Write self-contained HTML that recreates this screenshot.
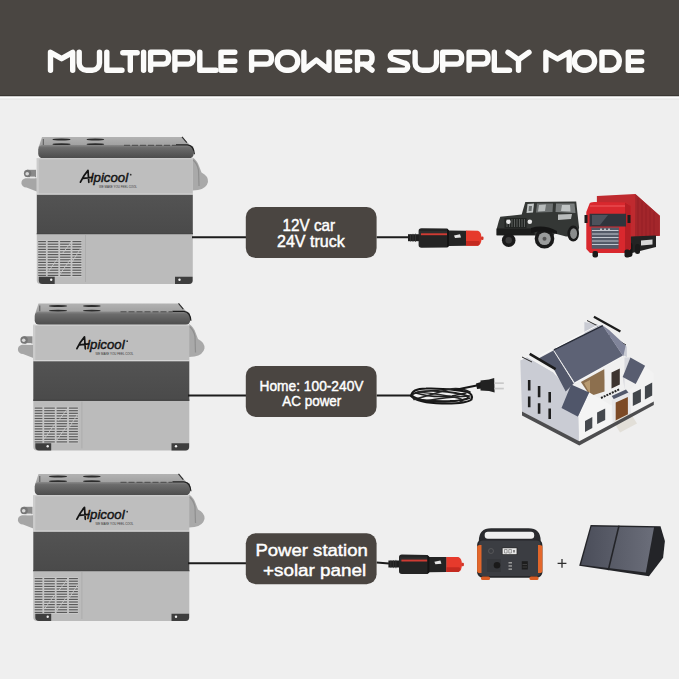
<!DOCTYPE html>
<html><head><meta charset="utf-8"><style>
html,body{margin:0;padding:0;background:#efefef;}
svg{display:block;}
</style></head><body>
<svg width="679" height="679" viewBox="0 0 679 679">
<rect width="679" height="679" fill="#efefef"/>
<rect width="679" height="96.3" fill="#4a4642"/>
<rect y="95.2" width="679" height="1.2" fill="#36332f"/><rect y="96.4" width="679" height="2.2" fill="#fbfbfb"/><rect y="98.6" width="679" height="1" fill="#e4e4e4"/>
<g fill="none" stroke="#fbfbfa" stroke-width="5.4" stroke-linecap="round" stroke-linejoin="round"><path d="M50.5,70.2 V52.3 L61.6,58.7 L72.7,52.3 V70.2"/><path d="M79.2,52.3 V63 A7.2,7.2 0 0 0 86.4,70.2 H92.3 A7.2,7.2 0 0 0 99.5,63 V52.3"/><path d="M106.8,52.3 V70.2 H122"/><path d="M122.8,52.8 H137.2 M130.3,52.8 V70.2"/><path d="M143.6,52.3 V70.2"/><path d="M150.6,70.2 V52.3 H164.0 A4.5,4.5 0 0 1 168.5,56.8 V59.599999999999994 A4.5,4.5 0 0 1 164.0,64.1 H150.6"/><path d="M174.9,70.2 V52.3 H188.4 A4.5,4.5 0 0 1 192.9,56.8 V59.599999999999994 A4.5,4.5 0 0 1 188.4,64.1 H174.9"/><path d="M199.8,52.3 V70.2 H216"/><path d="M234.8,52.3 H221 V70.2 H234.8 M221,61.3 H234.8"/><path d="M251.6,70.2 V52.3 H266.9 A4.5,4.5 0 0 1 271.4,56.8 V59.599999999999994 A4.5,4.5 0 0 1 266.9,64.1 H251.6"/><path d="M286.2,52.3 H288.8 A8.9,8.9 0 0 1 297.7,61.3 A8.9,8.9 0 0 1 288.8,70.2 H286.2 A8.9,8.9 0 0 1 277.3,61.3 A8.9,8.9 0 0 1 286.2,52.3 Z"/><path d="M303.9,52.3 V70.2 L316.4,60 L329,70.2 V52.3"/><path d="M349.7,52.3 H337.4 V70.2 H349.7 M337.4,61.3 H349.7"/><path d="M357.5,70.2 V52.3 H367.5 A4.5,4.5 0 0 1 372,56.8 V59.599999999999994 A4.5,4.5 0 0 1 367.5,64.1 H357.5 M364,64.1 L372,70.2"/><path d="M408.3,52.3 H394 A3.6,3.6 0 0 0 394,59.5 L404.1,63 A3.6,3.6 0 0 1 404.1,70.2 H389.8"/><path d="M415.1,52.3 V63 A7.2,7.2 0 0 0 422.3,70.2 H429.3 A7.2,7.2 0 0 0 436.5,63 V52.3"/><path d="M442.7,70.2 V52.3 H457.1 A4.5,4.5 0 0 1 461.6,56.8 V59.599999999999994 A4.5,4.5 0 0 1 457.1,64.1 H442.7"/><path d="M469.1,70.2 V52.3 H483.5 A4.5,4.5 0 0 1 488,56.8 V59.599999999999994 A4.5,4.5 0 0 1 483.5,64.1 H469.1"/><path d="M494.3,52.3 V70.2 H509.5"/><path d="M508,52.3 L518.5,59.8 L529,52.3 M518.5,59.8 V70.2"/><path d="M545.9,70.2 V52.3 L557.6,59 L569.2,52.3 V70.2"/><path d="M583,52.3 H586 A8.9,8.9 0 0 1 594.6,61.3 A8.9,8.9 0 0 1 586,70.2 H583 A8.9,8.9 0 0 1 574.4,61.3 A8.9,8.9 0 0 1 583,52.3 Z"/><path d="M602,52.3 V70.2 H611 A8.9,8.9 0 0 0 619.3,61.3 A8.9,8.9 0 0 0 611,52.3 Z"/><path d="M641.7,52.3 H628.3 V70.2 H641.7 M628.3,61.3 H641.7"/></g>
<defs><g id="fr"><defs><linearGradient id="lidg" x1="0" y1="0" x2="0" y2="1"><stop offset="0" stop-color="#b2b2b2"/><stop offset="1" stop-color="#9c9c9c"/></linearGradient><linearGradient id="bandg" x1="0" y1="0" x2="0" y2="1"><stop offset="0" stop-color="#8a8a8a"/><stop offset="0.2" stop-color="#6c6c6c"/><stop offset="1" stop-color="#4c4c4c"/></linearGradient><linearGradient id="dbg" x1="0" y1="0" x2="0" y2="1"><stop offset="0" stop-color="#535353"/><stop offset="1" stop-color="#4a4a4a"/></linearGradient></defs><path d="M36.8,178.2 L25.5,178.2 Q21.2,179.2 21.4,183.4 Q22,186.8 26.5,187.6 L36.8,191.4 Z" fill="#a6a6a6"/><rect x="27" y="169.8" width="9" height="7.4" fill="#8a8a8a"/><circle cx="27.6" cy="173.4" r="3.7" fill="#767676"/><circle cx="27.2" cy="173.8" r="1.8" fill="#d8d8d8"/><rect x="30" y="176.6" width="5" height="1.6" fill="#e8e8e8"/><path d="M192.5,157.5 Q197,160 199,166 L201.5,172.5 Q208.5,176 208,182 Q206.5,188.5 198,190 L192.5,190.5 Z" fill="#a9a9a9"/><path d="M193,160 Q197,163 198.5,170 L199,186" fill="none" stroke="#8f8f8f" stroke-width="1.2"/><path d="M42,137.1 L182,137.1 L190,145 L38.5,147.7 Z" fill="url(#lidg)"/><path d="M182,136.9 L186.8,142.6" stroke="#2a2a2a" stroke-width="1.1"/><path d="M43.3,139 V145" stroke="#444" stroke-width="0.8"/><ellipse cx="61.5" cy="139.5" rx="9.099999999999998" ry="1.1" fill="#2c2c2c"/><ellipse cx="61.5" cy="144.3" rx="9.099999999999998" ry="1.1" fill="#2c2c2c"/><ellipse cx="95.35" cy="139.5" rx="8.850000000000001" ry="1.1" fill="#2c2c2c"/><ellipse cx="95.35" cy="144.3" rx="8.850000000000001" ry="1.1" fill="#2c2c2c"/><rect x="38.2" y="145" width="155.5" height="13.3" rx="4.5" fill="url(#bandg)"/><path d="M176,144.8 H187.5 Q193.8,145.5 194.4,154.2" stroke="#1e1e1e" stroke-width="1.2" fill="none"/><path d="M124,145.3 H176" stroke="#444" stroke-width="0.9" stroke-dasharray="6 2"/><rect x="36.8" y="158.3" width="156" height="36.5" fill="#bebebe"/><rect x="36.8" y="158.3" width="2" height="36.5" fill="#cccccc"/><rect x="36.8" y="158.3" width="156" height="1" fill="#d0d0d0"/><rect x="36.8" y="193.6" width="156" height="1.2" fill="#d9d9d9"/><rect x="36.8" y="194.8" width="156" height="39.6" fill="url(#dbg)"/><rect x="36.8" y="233" width="156" height="1.4" fill="#454545"/><path d="M36.8,234.4 H192.8 V280.5 Q192.8,283.9 189.5,283.9 H40.3 Q36.8,283.9 36.8,280.5 Z" fill="#bbbbbb"/><rect x="37.7" y="240.3" width="44.1" height="36.5" fill="#cbcbcb"/><rect x="38.2" y="241.0" width="43.2" height="1.2" fill="#5a5a5a"/><rect x="38.2" y="243.6" width="43.2" height="1.2" fill="#5a5a5a"/><rect x="38.2" y="246.2" width="43.2" height="1.2" fill="#5a5a5a"/><rect x="38.2" y="248.8" width="43.2" height="1.2" fill="#5a5a5a"/><rect x="38.2" y="251.4" width="43.2" height="1.2" fill="#5a5a5a"/><rect x="38.2" y="254.0" width="43.2" height="1.2" fill="#5a5a5a"/><rect x="38.2" y="256.6" width="43.2" height="1.2" fill="#5a5a5a"/><rect x="38.2" y="259.2" width="43.2" height="1.2" fill="#5a5a5a"/><rect x="38.2" y="261.8" width="43.2" height="1.2" fill="#5a5a5a"/><rect x="38.2" y="264.4" width="43.2" height="1.2" fill="#5a5a5a"/><rect x="38.2" y="267.0" width="43.2" height="1.2" fill="#5a5a5a"/><rect x="38.2" y="269.6" width="43.2" height="1.2" fill="#5a5a5a"/><rect x="38.2" y="272.2" width="43.2" height="1.2" fill="#5a5a5a"/><rect x="38.2" y="274.8" width="43.2" height="1.2" fill="#5a5a5a"/><rect x="45.9" y="240.3" width="1.8" height="36.5" fill="#c4c4c4"/><rect x="58.3" y="240.3" width="1.8" height="36.5" fill="#c4c4c4"/><rect x="70.6" y="240.3" width="1.8" height="36.5" fill="#c4c4c4"/><path d="M48,272 L58,258 M60,274 L70,260 M62,254 L72,241 M72,262 L81,248" stroke="#c8c8c8" stroke-width="0.9"/><rect x="85" y="235" width="0.8" height="47" fill="#aaaaaa"/><path d="M38.8,276.8 H54.7 V283.9 H42.5 Q38.8,283.9 38.8,280.5 Z" fill="#3e3e3e"/><path d="M175,276.8 H192.6 V280.5 Q192.6,283.9 189,283.9 H175 Z" fill="#3e3e3e"/><circle cx="51.2" cy="279.8" r="1.2" fill="#eee"/><circle cx="179.5" cy="279.8" r="1.2" fill="#eee"/><path d="M80.4,182.2 Q83.5,175.5 88,170.4 L88.8,182.3 M83.2,178.4 L92.3,177.4" fill="none" stroke="#141414" stroke-width="1.7" stroke-linecap="round" stroke-linejoin="round"/><text x="90.6" y="182.3" font-family="Liberation Sans" font-style="italic" font-size="13" fill="#141414" stroke="#141414" stroke-width="0.45" textLength="37.5" lengthAdjust="spacingAndGlyphs">lpicool</text><text x="99" y="188.3" font-family="Liberation Sans" font-size="3" fill="#333" textLength="38" lengthAdjust="spacingAndGlyphs">WE MAKE YOU FEEL COOL</text><circle cx="130.7" cy="174.7" r="0.9" fill="#333"/></g></defs>
<use href="#fr"/>
<use href="#fr" transform="translate(-3.5,166.5)"/>
<use href="#fr" transform="translate(-3.5,337)"/>
<g stroke="#1c1c1c" stroke-width="2" fill="none">
<path d="M192,237.3 H246"/><path d="M376.6,237.3 H409"/>
<path d="M188,395.5 H246"/><path d="M376.6,395.5 H411"/>
<path d="M188,563.3 H246"/><path d="M376.6,562.5 L389,563.5"/>
</g>
<rect x="245.8" y="207.1" width="130.8" height="51" rx="10" fill="#4a4541"/><text x="308.8" y="231.1" text-anchor="middle" font-family="Liberation Sans" font-size="16.2" fill="#fff" stroke="#fff" stroke-width="0.45" textLength="52.6" lengthAdjust="spacingAndGlyphs">12V car</text><text x="310.9" y="246.7" text-anchor="middle" font-family="Liberation Sans" font-size="16.2" fill="#fff" stroke="#fff" stroke-width="0.45" textLength="67.7" lengthAdjust="spacingAndGlyphs">24V truck</text>
<rect x="245.8" y="365.9" width="130.8" height="51" rx="10" fill="#4a4541"/><text x="311.5" y="390.6" text-anchor="middle" font-family="Liberation Sans" font-size="14.6" fill="#fff" stroke="#fff" stroke-width="0.45" textLength="104" lengthAdjust="spacingAndGlyphs">Home: 100-240V</text><text x="311.8" y="405.5" text-anchor="middle" font-family="Liberation Sans" font-size="14.6" fill="#fff" stroke="#fff" stroke-width="0.45" textLength="59" lengthAdjust="spacingAndGlyphs">AC power</text>
<rect x="245.8" y="533.2" width="130.8" height="51" rx="10" fill="#4a4541"/><text x="311.6" y="556.1" text-anchor="middle" font-family="Liberation Sans" font-size="17.4" fill="#fff" stroke="#fff" stroke-width="0.45" textLength="112.4" lengthAdjust="spacingAndGlyphs">Power station</text><text x="314.6" y="575.7" text-anchor="middle" font-family="Liberation Sans" font-size="17.4" fill="#fff" stroke="#fff" stroke-width="0.45" textLength="103.2" lengthAdjust="spacingAndGlyphs">+solar panel</text>
<defs><g id="plug">
<path d="M408,234.2 H419 V241.2 H408 Z" fill="#1e1e1e"/>
<path d="M410.5,234 V241.5 M413,233.8 V241.8 M415.5,233.6 V242" stroke="#3a3a3a" stroke-width="0.7"/>
<path d="M418.6,231 Q418.6,228.3 421.5,228.3 L447,228.6 L449,230.6 L466.3,230.8 V245.8 L449,246 L447,247.6 L421.5,247.7 Q418.6,247.7 418.6,245 Z" fill="#242424"/>
<path d="M419,231 H447 V235 H419 Z" fill="#2e2e2e"/>
<rect x="421" y="233.3" width="26" height="1.9" fill="#cf3b33"/>
<path d="M447,228.6 L449,230.6 V246 L447,247.6 Z" fill="#141414"/>
<path d="M454,235.5 L460,234.3 L461,237.5 L455,238 Z" fill="#e6e6e6"/>
<path d="M466,230.6 L478,230.8 Q481.5,232 481.5,238.3 Q481.5,244.7 478,245.8 L466,245.8 Z" fill="#e63a2c"/>
<path d="M466,241 L479,241 Q481,243.5 478,245.8 L466,245.8 Z" fill="#c42a20"/>
<rect x="481" y="236.5" width="2.5" height="3.5" rx="1" fill="#d23427"/>
</g></defs>
<use href="#plug"/>
<use href="#plug" transform="translate(-19.6,326.3)"/>
<g>
<path d="M496.6,235.5 L496.6,229.2 L498.8,221.1 L500.3,216.7 L521.7,214.5 L525.3,202 L576.2,201.5 L577.6,214.5 L579.1,227.7 L577,236 L566,236.5 L554.8,233.5 L553,236 L534.5,235.5 Z" fill="#343735"/>
<path d="M527.5,204 L534,203.5 L533,212.5 L526.5,213 Z" fill="#c5c9c9"/>
<path d="M529,206 L532,206 L531.5,211 L528.5,211 Z" fill="#6a6e6e"/>
<path d="M537,203.5 L553,203.5 L552.5,212 L536,212.5 Z" fill="#6e7272"/>
<path d="M539,205 L546,204.5 L545,211 L538,211.5 Z" fill="#b8bcbc"/>
<path d="M556,203.5 L574.5,203.5 L575.5,213 L555.5,212 Z" fill="#7a7e7e"/>
<path d="M562,205 L570,205 L570.5,211.5 L561,211 Z" fill="#c0c4c4"/>
<path d="M558,214.5 L572,214 L571,219 L558,220 Z" fill="#b9bcbc"/>
<rect x="504.5" y="218" width="22" height="10" fill="#222523"/>
<path d="M507,219 V227 M509.5,219 V227 M512,219 V227 M514.5,219 V227 M517,219 V227 M519.5,219 V227 M522,219 V227 M524.5,219 V227" stroke="#6a6d6b" stroke-width="0.8"/>
<circle cx="508.4" cy="221.8" r="2.3" fill="#e8e8e8"/><circle cx="529.8" cy="221.8" r="2.3" fill="#e8e8e8"/>
<rect x="496.6" y="228.5" width="38" height="6.5" fill="#1c1d1c"/>
<circle cx="508.7" cy="240.3" r="6.8" fill="#1a1a1a"/><circle cx="508.7" cy="240.3" r="3.2" fill="#3a3a3a"/>
<circle cx="544.5" cy="238.8" r="9.8" fill="#1a1a1a"/><circle cx="544.5" cy="238.8" r="6.3" fill="#9a9c9c"/><circle cx="544.5" cy="238.8" r="2" fill="#555"/>
<ellipse cx="573.2" cy="233.6" rx="5.8" ry="8" fill="#1a1a1a"/><ellipse cx="573.6" cy="233.6" rx="3.5" ry="5.3" fill="#8a8c8c"/>
<path d="M531,228 Q544,224 557,231 L557,234 Q544,229 531,233 Z" fill="#151515"/>
</g>
<g>
<path d="M596.9,195.9 L635.3,193.9 L659.8,215.8 L659.8,235.7 L635,237 L596.9,236 Z" fill="#bf2a2f"/>
<path d="M635.3,193.9 L659.8,215.8 L659.8,235.7 L635,237 Z" fill="#a3262b"/>
<path d="M638,198 V236 M642,201.5 V236 M646,205 V236 M650,208.5 V236 M654,212 V236" stroke="#8f1d22" stroke-width="0.6"/>
<path d="M630,236.5 L656,235.5 L656,247 L632,253 L630,253 Z" fill="#232323"/>
<path d="M641,240.5 L652.5,239.5 L652.5,244.5 L641,245.5 Z" fill="#d8d8d8"/>
<rect x="625" y="242.5" width="7.5" height="14.5" rx="3" fill="#161616"/><rect x="635" y="244" width="5" height="10" rx="2.5" fill="#1a1a1a"/>
<path d="M589.6,203.5 Q590,201.9 594,201.9 L626,202.5 L630.7,206 L630.7,249 L627,253 L590,253 L586.3,249 L586.3,212 Z" fill="#d9282e"/>
<path d="M625,202.5 L630.7,206 L630.7,249 L625,251 Z" fill="#b51f25"/>
<path d="M589.6,213.8 L626,213.8 L626,226.4 L589.6,226.4 Z" fill="#30343c"/>
<path d="M592,215 L608,215 L600,225 L592,225 Z" fill="#4d525c"/>
<path d="M590,206 H625" stroke="#ef5a5e" stroke-width="1.2"/>
<path d="M591.3,227.5 L619,227.5 L618.5,248.8 L591.8,248.8 Z" fill="#545a68"/>
<path d="M592,230.5 H618.5 M592,234 H618.5 M592,237.5 H618.5 M592,241 H618.5 M592,244.5 H618.5" stroke="#c3c7d0" stroke-width="1"/><path d="M600,229.2 h2 M604,229.2 h2 M608,229.2 h2" stroke="#eee" stroke-width="1"/>
<rect x="584.5" y="215" width="3" height="8" fill="#1c1c1c"/><rect x="627.5" y="215" width="3" height="8" fill="#1c1c1c"/>
<rect x="592.5" y="251" width="5.5" height="6.5" rx="2" fill="#1a1a1a"/><rect x="624.5" y="249.5" width="5.5" height="8" rx="2" fill="#1a1a1a"/>
</g>
<g>
<path d="M584.4,322 L602.7,325.6 L609.2,330.3 L626.8,346.8 L626.8,357 L584.4,335 Z" fill="#c9cbd3"/>
<path d="M593.9,316.8 L620.4,331.5" stroke="#1c1c1c" stroke-width="2.2"/>
<path d="M587,320.5 L598,326 M609,335 L626,345" stroke="#2a2a2a" stroke-width="1"/>
<path d="M520.3,360.4 L527,356.5 L553.9,372.7 L562.1,383.3 L571,388 L578.9,418 L578.9,441.5 L522,411.4 Z" fill="#caccd4"/><path d="M521,359.5 L527,356.5 L553.9,372 L556,375" fill="none" stroke="#f4f4f4" stroke-width="1.2"/>
<path d="M538.6,358.6 L553.9,350.3 L573.9,383.3 L565.7,391.6 L553.9,369.2 Z" fill="#52576a"/>
<path d="M529.7,353.9 L555.6,369.2" stroke="#1a1a1a" stroke-width="2.6"/>
<path d="M522,357 L532,362" stroke="#2a2a2a" stroke-width="1"/>
<path d="M553.9,350.3 L602.7,325.6 L623.3,356.2 L575.1,383.3 Z" fill="#5d6275"/>
<path d="M602.7,325.6 L609.2,330.3 L625.7,345.6 L623.3,356.2 Z" fill="#80849a"/>
<path d="M553.9,349.8 L602.7,325.6" stroke="#262a36" stroke-width="1.3"/><path d="M540,356 L552,349.5 M556,347.5 L600,324" stroke="#fafafa" stroke-width="1"/>
<path d="M553.9,350.9 L573.9,382.7" stroke="#eeeeee" stroke-width="1"/>
<path d="M580.9,382 L604.5,369 L604.5,391.6 L590.3,396 Z" fill="#8c6f4e"/>
<path d="M584,383 L590,380 L590,394 Z" fill="#b89a70"/>
<path d="M604.5,368 L624.5,357.4 L624.5,388 L605.6,396 Z" fill="#f0f0f0"/>
<path d="M611.5,372.5 L619.8,368.5 L619.8,384.5 L611.5,388.5 Z" fill="#3d3430"/>
<path d="M575.1,383 L623.3,356.2" stroke="#f5f5f5" stroke-width="1.5"/>
<path d="M624.5,357.4 L630.4,357.4 L622.7,376.9 L624.5,389 Z" fill="#d7d8de"/>
<path d="M629.5,389.4 L635.7,383.9 L645.1,365.7 L653.8,373.2 L653.8,400.8 L631.1,413.7 Z" fill="#f2f2f2"/>
<path d="M630.4,357.4 L645.1,365.7 L635.7,383.9 L622.7,376.9 Z" fill="#585d70"/>
<path d="M632.8,393 L640.9,389 L640.9,402 L632.8,406 Z" fill="#42464b"/>
<path d="M644.9,386.6 L652.2,382.6 L652.2,395.5 L644.9,399.5 Z" fill="#42464b"/>
<path d="M578.5,417 L589.8,392.7 L611.7,405.6 L611.7,425.9 L579.3,441.3 Z" fill="#f4f4f4"/>
<path d="M571.2,384.6 L589.8,392.7 L578.5,417 L561.5,408 Z" fill="#50566a"/>
<path d="M589.8,392.7 L578.5,417" stroke="#fafafa" stroke-width="1.2"/>
<path d="M585,421 L592.3,417 L592.3,428 L585,432 Z" fill="#45494e"/>
<path d="M597.1,412.5 L605.2,408.5 L605.2,420 L597.1,424 Z" fill="#45494e"/>
<path d="M611.7,396 L626,389.4 L629.5,394 L615,401 Z" fill="#52586b"/>
<path d="M611.7,400 L629.5,392 L631,413.7 L613,423 Z" fill="#e6e6e8"/>
<path d="M615.7,402.5 L627.9,397 L627.9,415.5 L615.7,421 Z" fill="#7c4a26"/>
<path d="M601,398 L620,389" stroke="#222" stroke-width="2" stroke-dasharray="2 1"/>
<path d="M613.5,421.5 L630.5,413 L637,423.5 L620,432.5 Z" fill="#e2dfd8"/>
<path d="M522,411.4 L579.3,441.3 L653.8,401.5 L653.8,405 L579.3,445.5 L522,415.6 Z" fill="#4d4d4f"/>
<path d="M527.9,380 h2.6 v10.6 h-2.6 Z M527.9,396.6 h2.6 v10.6 h-2.6 Z M537.8,386 h2.6 v11.2 h-2.6 Z M537.8,403.2 h2.6 v10.6 h-2.6 Z M548.4,391.9 h2.6 v10.6 h-2.6 Z M548.4,408.5 h2.6 v10.6 h-2.6 Z" fill="#1e1e1e"/>
</g>
<g fill="none" stroke-linecap="round">
<path d="M411,396 Q412,388.5 426,388.5 Q446,388 466,391.5 Q474,394 471.5,399.5 Q466,404 442,403.5 Q418,403 411,396 Z" stroke="#161616" stroke-width="2"/>
<path d="M413,394 Q420,390 438,391 Q458,392.5 468,396 Q470,400 450,401 Q428,401.5 416,399 Q411,397 413,394 Z" stroke="#1e1e1e" stroke-width="1.8"/>
<path d="M418,392 Q440,394 458,398 Q466,400.5 460,402" stroke="#2a2a2a" stroke-width="1.6"/>
<path d="M414,399.5 Q430,395 448,389.5 Q460,387 470,392" stroke="#262626" stroke-width="1.6"/>
<path d="M425,401 Q445,397 470,396" stroke="#222" stroke-width="1.6"/><path d="M416,393 Q432,398 452,396 Q462,394 466,393" stroke="#1e1e1e" stroke-width="1.5"/><path d="M412,396 Q425,403 445,402 Q462,401 470,398" stroke="#1a1a1a" stroke-width="1.5"/>
<path d="M455,390 Q466,387.5 478,385.2" stroke="#161616" stroke-width="2"/>
</g>
<g>
<path d="M476,383.5 L481,382 L482,388.5 L477,389 Z" fill="#1a1a1a"/>
<path d="M480.5,380.5 L489,379.5 L494.2,378 L494.6,392.5 L489,391 L480.5,390.5 Z" fill="#222"/>
<rect x="494.4" y="382.3" width="9.4" height="1.7" fill="#c9c9c9"/><rect x="494.4" y="387.7" width="9.4" height="1.7" fill="#c9c9c9"/>
</g>
<g>
<path d="M478.8,541 Q478.8,528.2 491,528.2 L528.5,528.2 Q540.7,528.2 540.7,541 Z" fill="#2a2b2e"/>
<rect x="484.7" y="531.8" width="49.5" height="7" rx="3.2" fill="#efefef"/>
<rect x="477.1" y="539.5" width="65.3" height="38.2" rx="5.5" fill="#26272a"/><rect x="479" y="540.5" width="61.5" height="35.5" rx="4" fill="#3b3d42"/>
<path d="M477.1,547 Q477.1,545 480,545 L481.5,545 L481.5,573 L480,573 Q477.1,573 477.1,571 Z" fill="#e3672b"/>
<path d="M542.4,547 Q542.4,545 539.5,545 L538,545 L538,573 L539.5,573 Q542.4,573 542.4,571 Z" fill="#e3672b"/>
<rect x="481" y="576.5" width="9" height="3.5" rx="1.5" fill="#d95d25"/><rect x="529.5" y="576.5" width="9" height="3.5" rx="1.5" fill="#d95d25"/>
<rect x="501.8" y="547.5" width="15.6" height="7.4" fill="#2a2a2a"/><rect x="502.6" y="548.2" width="14" height="6" fill="#e8e8e8"/>
<path d="M504.5,549.5 h2.6 v3.5 h-2.6 Z M508.8,549.5 h2.6 v3.5 h-2.6 Z" fill="none" stroke="#666" stroke-width="0.6"/><rect x="513" y="550" width="2" height="2.5" fill="#888"/>
<circle cx="491" cy="551" r="2.5" fill="none" stroke="#666" stroke-width="0.6"/>
<rect x="487" y="559" width="14" height="13" fill="#35373b"/>
<circle cx="497" cy="565.3" r="3.3" fill="#1a1a1a"/>
<rect x="508.5" y="562" width="3.5" height="1.5" fill="#9a9a9a"/><rect x="508.5" y="565.2" width="3.5" height="1.5" fill="#9a9a9a"/><rect x="508.5" y="568.4" width="3.5" height="1.5" fill="#9a9a9a"/>
<rect x="521.8" y="561.2" width="6" height="8.3" fill="#1d1d1d"/>
<path d="M522.5,564.5 h4.5 M522.5,567 h4.5" stroke="#555" stroke-width="0.6"/>
</g>
<g>
<defs><linearGradient id="solg" x1="0" y1="0" x2="1" y2="0"><stop offset="0" stop-color="#4a4d59"/><stop offset="1" stop-color="#6b6e7a"/></linearGradient></defs>
<path d="M590.6,525 L660.5,526.3 L664.9,540.9 L663.1,557.7 L649,576.3 L579.2,565.7 Z" fill="#232428"/>
<path d="M591.5,526.5 L654,527.5 L645.8,572.5 L581,564.7 Z" fill="url(#solg)"/>
<path d="M619,525.6 L608.3,570.1" stroke="#232428" stroke-width="1.6"/>
<path d="M557.6,563.4 H566.4 M562,559 V567.8" stroke="#2e2e2e" stroke-width="1.3"/>
</g>
</svg>
</body></html>
